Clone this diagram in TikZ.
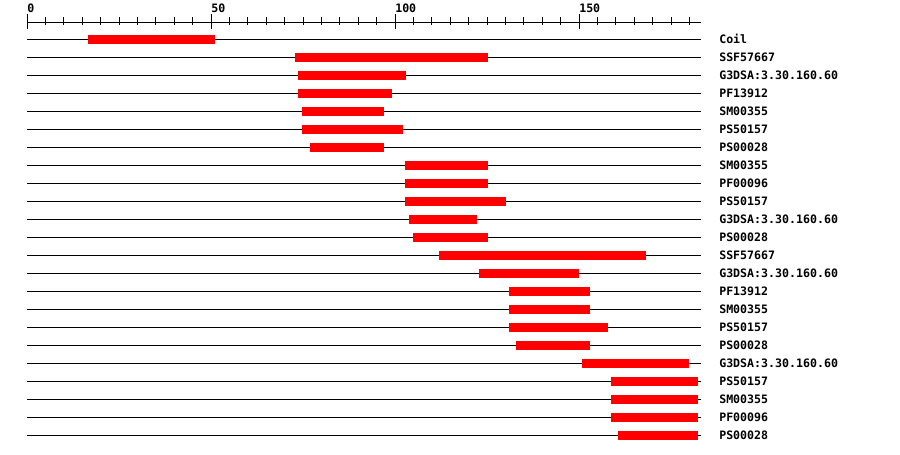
\documentclass[tikz,border=0pt]{standalone}
\usepackage{fontspec}
\setmonofont{DejaVu Sans Mono}
\usetikzlibrary{positioning}

\begin{document}
\begin{tikzpicture}[x=0.75pt,y=-0.75pt]

\tikzset{track/.style = {line width=0.75pt}}
\tikzset{hit/.style = {fill=red, draw=none}}
\tikzset{tag/.style = {font=\ttfamily\bfseries\fontsize{8.7}{10}\selectfont, anchor=base west, inner sep=0pt}}

\useasboundingbox (0,0) rectangle (900,454);

% ruler
\draw[track] (27,22) -- (701,22);
\foreach \t in {0,5,...,180}
  \draw[track] ({27+3.68*\t},17) -- ({27+3.68*\t},25);
\foreach \t in {0,50,100,150} {
  \draw[track] ({27+3.68*\t},14) -- ({27+3.68*\t},29);
  \node[tag] (n\t) at ({27+3.68*\t},12) {\t};
}

% domains
\foreach \name/\s/\e [count=\i] in {
  Coil/16.6/51,
  SSF57667/72.8/125.2,
  G3DSA:3.30.160.60/73.6/103,
  PF13912/73.6/99.1,
  SM00355/74.7/96.9,
  PS50157/74.7/102.1,
  PS00028/76.8/96.9,
  SM00355/102.6/125.2,
  PF00096/102.6/125.2,
  PS50157/102.6/130.1,
  G3DSA:3.30.160.60/103.7/122.2,
  PS00028/104.8/125.2,
  SSF57667/111.9/168.1,
  G3DSA:3.30.160.60/122.7/150.1,
  PF13912/130.9/153.1,
  SM00355/130.9/153.1,
  PS50157/130.9/158,
  PS00028/132.8/153.1,
  G3DSA:3.30.160.60/150.7/180,
  PS50157/158.8/182.2,
  SM00355/158.8/182.2,
  PF00096/158.8/182.2,
  PS00028/160.7/182.2} {
  \pgfmathsetmacro\y{21+18*\i}
  \draw[track] (27,\y) -- (701,\y);
  \fill[hit] ({27+3.68*\s},{\y-4}) rectangle ({27+3.68*\e},{\y+5});
  \node[tag] (d\i) at (719,{\y+4.5}) {\name};
}

\end{tikzpicture}
\end{document}
